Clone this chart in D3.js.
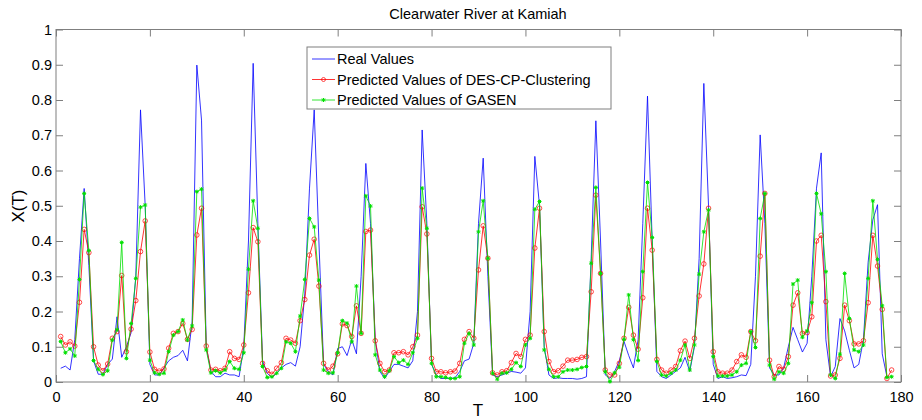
<!DOCTYPE html>
<html><head><meta charset="utf-8">
<script src="https://cdn.jsdelivr.net/npm/d3@7"></script>
<style>body{margin:0;background:#fff;} svg{display:block;font-family:Arial,"Liberation Sans",sans-serif;}</style>
</head><body><svg id="c" width="922" height="420"></svg>
<script>
const realValues = [0.039,0.045,0.034,0.12,0.35,0.549,0.33,0.06,0.022,0.022,0.05,0.065,0.185,0.07,0.1,0.14,0.3,0.772,0.5,0.05,
0.02,0.02,0.04,0.06,0.07,0.075,0.09,0.06,0.17,0.899,0.743,0.1,0.03,0.015,0.015,0.025,0.02,0.02,0.015,0.1,
0.4,0.904,0.45,0.06,0.025,0.012,0.025,0.04,0.05,0.055,0.045,0.1,0.25,0.55,0.772,0.4,0.05,0.03,0.02,0.095,
0.1,0.075,0.12,0.08,0.3,0.62,0.45,0.12,0.03,0.01,0.03,0.05,0.05,0.045,0.04,0.06,0.2,0.715,0.45,0.05,
0.02,0.01,0.01,0.01,0.012,0.03,0.06,0.065,0.11,0.45,0.635,0.3,0.02,0.015,0.02,0.025,0.03,0.028,0.025,0.04,
0.2,0.64,0.5,0.1,0.02,0.01,0.012,0.01,0.01,0.01,0.008,0.01,0.015,0.35,0.741,0.4,0.02,0.01,0.03,0.06,
0.115,0.075,0.04,0.12,0.45,0.811,0.4,0.03,0.015,0.01,0.02,0.03,0.04,0.07,0.03,0.1,0.35,0.847,0.5,0.05,
0.01,0.015,0.01,0.012,0.015,0.02,0.018,0.05,0.3,0.701,0.45,0.04,0.02,0.02,0.04,0.1,0.155,0.12,0.085,0.11,
0.3,0.55,0.65,0.12,0.015,0.044,0.18,0.145,0.09,0.04,0.05,0.12,0.34,0.46,0.503,0.08,0.015];
const desValues = [0.129,0.105,0.114,0.102,0.226,0.433,0.367,0.1,0.048,0.032,0.051,0.124,0.143,0.302,0.086,0.15,0.231,0.37,0.457,0.085,
0.036,0.031,0.037,0.096,0.138,0.143,0.166,0.121,0.149,0.417,0.493,0.102,0.034,0.036,0.032,0.039,0.086,0.067,0.064,0.105,
0.253,0.438,0.398,0.053,0.032,0.022,0.039,0.055,0.124,0.119,0.11,0.174,0.234,0.36,0.405,0.272,0.053,0.034,0.045,0.08,
0.165,0.16,0.129,0.216,0.138,0.427,0.431,0.117,0.053,0.029,0.034,0.083,0.083,0.086,0.077,0.1,0.133,0.497,0.42,0.067,
0.029,0.029,0.026,0.029,0.031,0.053,0.121,0.143,0.124,0.318,0.443,0.351,0.026,0.02,0.029,0.032,0.055,0.081,0.072,0.121,
0.133,0.38,0.493,0.143,0.058,0.029,0.032,0.045,0.062,0.062,0.064,0.07,0.072,0.256,0.53,0.308,0.034,0.02,0.02,0.053,
0.124,0.212,0.133,0.093,0.239,0.493,0.374,0.064,0.034,0.025,0.034,0.044,0.089,0.116,0.067,0.124,0.244,0.335,0.493,0.086,
0.029,0.025,0.025,0.034,0.058,0.077,0.07,0.143,0.117,0.357,0.535,0.062,0.015,0.044,0.036,0.072,0.218,0.253,0.138,0.14,
0.185,0.4,0.416,0.228,0.017,0.02,0.067,0.218,0.174,0.108,0.108,0.117,0.225,0.416,0.329,0.206,0.01,0.034];
const gasenValues = [0.115,0.083,0.094,0.074,0.291,0.535,0.373,0.061,0.036,0.021,0.032,0.119,0.148,0.396,0.067,0.166,0.294,0.496,0.502,0.062,
0.026,0.022,0.025,0.086,0.133,0.143,0.176,0.119,0.159,0.54,0.547,0.091,0.026,0.032,0.026,0.034,0.058,0.039,0.036,0.083,
0.32,0.514,0.436,0.044,0.013,0.015,0.025,0.039,0.114,0.11,0.086,0.187,0.291,0.464,0.44,0.289,0.034,0.025,0.026,0.083,
0.174,0.167,0.114,0.272,0.138,0.528,0.499,0.077,0.034,0.015,0.032,0.072,0.055,0.062,0.05,0.083,0.124,0.55,0.436,0.053,
0.015,0.015,0.013,0.01,0.01,0.015,0.11,0.138,0.105,0.426,0.514,0.351,0.025,0.008,0.025,0.026,0.036,0.055,0.044,0.105,
0.124,0.49,0.512,0.091,0.036,0.015,0.015,0.029,0.034,0.034,0.036,0.041,0.044,0.337,0.552,0.308,0.029,0.001,0.026,0.042,
0.121,0.247,0.12,0.061,0.313,0.566,0.41,0.058,0.02,0.017,0.025,0.034,0.062,0.105,0.034,0.105,0.306,0.426,0.488,0.072,
0.017,0.017,0.017,0.02,0.029,0.048,0.053,0.143,0.098,0.464,0.535,0.048,0.008,0.029,0.025,0.053,0.278,0.289,0.127,0.145,
0.225,0.535,0.477,0.313,0.02,0.01,0.079,0.308,0.18,0.091,0.086,0.105,0.294,0.514,0.348,0.216,0.013,0.015];
const xTicks = [0,20,40,60,80,100,120,140,160,180];
const yTicks = [0,0.1,0.2,0.3,0.4,0.5,0.6,0.7,0.8,0.9,1];
const seriesNames = ["Real Values","Predicted Values of DES-CP-Clustering","Predicted Values of GASEN"];
const seriesColors = ["#0000ff","#ff0000","#00e000"];

const svg = d3.select("#c");
const L=56, R=901, T=29.5, B=382;
const x = d3.scaleLinear().domain([0,180]).range([L,R]);
const y = d3.scaleLinear().domain([0,1]).range([B,T]);
const axisColor = "#7f7f7f";

// box
svg.append("rect").attr("x",L).attr("y",T).attr("width",R-L).attr("height",B-T)
  .attr("fill","none").attr("stroke",axisColor).attr("stroke-width",1);

function styleAxis(g, showLabels){
  g.select(".domain").remove();
  g.selectAll(".tick line").attr("stroke",axisColor);
  g.selectAll(".tick text").attr("fill","#000").style("font-size","14.5px").style("font-family","Arial,'Liberation Sans',sans-serif");
  if(!showLabels) g.selectAll(".tick text").remove();
}
svg.append("g").attr("transform",`translate(0,${B})`)
  .call(d3.axisBottom(x).tickValues(xTicks).tickSize(-7).tickPadding(10).tickFormat(d3.format("d")))
  .call(g=>styleAxis(g,true));
svg.append("g").attr("transform",`translate(0,${T})`)
  .call(d3.axisTop(x).tickValues(xTicks).tickSize(-7).tickFormat(""))
  .call(g=>styleAxis(g,false));
svg.append("g").attr("transform",`translate(${L},0)`)
  .call(d3.axisLeft(y).tickValues(yTicks).tickSize(-7).tickPadding(4).tickFormat(d=>d===0?"0":d===1?"1":d3.format(".1f")(d)))
  .call(g=>styleAxis(g,true));
svg.append("g").attr("transform",`translate(${R},0)`)
  .call(d3.axisRight(y).tickValues(yTicks).tickSize(-7).tickFormat(""))
  .call(g=>styleAxis(g,false));

const line = d3.line().x((d,i)=>x(i+1)).y(d=>y(d));
const plot = svg.append("g");
plot.append("path").datum(realValues).attr("d",line).attr("fill","none").attr("stroke",seriesColors[0]).attr("stroke-width",0.8);
plot.append("path").datum(desValues).attr("d",line).attr("fill","none").attr("stroke",seriesColors[1]).attr("stroke-width",0.8);
plot.selectAll("circle.des").data(desValues).join("circle").attr("class","des")
  .attr("cx",(d,i)=>x(i+1)).attr("cy",d=>y(d)).attr("r",2.3)
  .attr("fill","none").attr("stroke",seriesColors[1]).attr("stroke-width",0.7);
plot.append("path").datum(gasenValues).attr("d",line).attr("fill","none").attr("stroke",seriesColors[2]).attr("stroke-width",0.8);
const star = "M-2,0L2,0M0,-2L0,2M-1.5,-1.5L1.5,1.5M-1.5,1.5L1.5,-1.5";
plot.selectAll("path.gs").data(gasenValues).join("path").attr("class","gs")
  .attr("transform",(d,i)=>`translate(${x(i+1)},${y(d)})`).attr("d",star)
  .attr("fill","none").attr("stroke",seriesColors[2]).attr("stroke-width",1);

// legend
const lg = svg.append("g");
lg.append("rect").attr("x",307).attr("y",47).attr("width",304).attr("height",62)
  .attr("fill","#fff").attr("stroke",axisColor).attr("stroke-width",1);
seriesNames.forEach((name,k)=>{
  const yy = 59 + k*20.5;
  lg.append("line").attr("x1",312).attr("x2",335).attr("y1",yy).attr("y2",yy).attr("stroke",seriesColors[k]).attr("stroke-width",0.8);
  if(k===1) lg.append("circle").attr("cx",323.5).attr("cy",yy).attr("r",2).attr("fill","none").attr("stroke",seriesColors[1]).attr("stroke-width",0.7);
  if(k===2) lg.append("path").attr("transform",`translate(323.5,${yy})`).attr("d",star).attr("stroke",seriesColors[2]).attr("fill","none");
  lg.append("text").attr("x",337).attr("y",yy).attr("dy","0.35em").style("font-size","14.5px").attr("fill","#000").text(name);
});

// titles
svg.append("text").attr("x",478).attr("y",19).attr("text-anchor","middle").style("font-size","14.5px").text("Clearwater River at Kamiah");
svg.append("text").attr("x",478).attr("y",416).attr("text-anchor","middle").style("font-size","17px").text("T");
svg.append("text").attr("transform","translate(24,206) rotate(-90)").attr("text-anchor","middle").style("font-size","17px").text("X(T)");
</script></body></html>
